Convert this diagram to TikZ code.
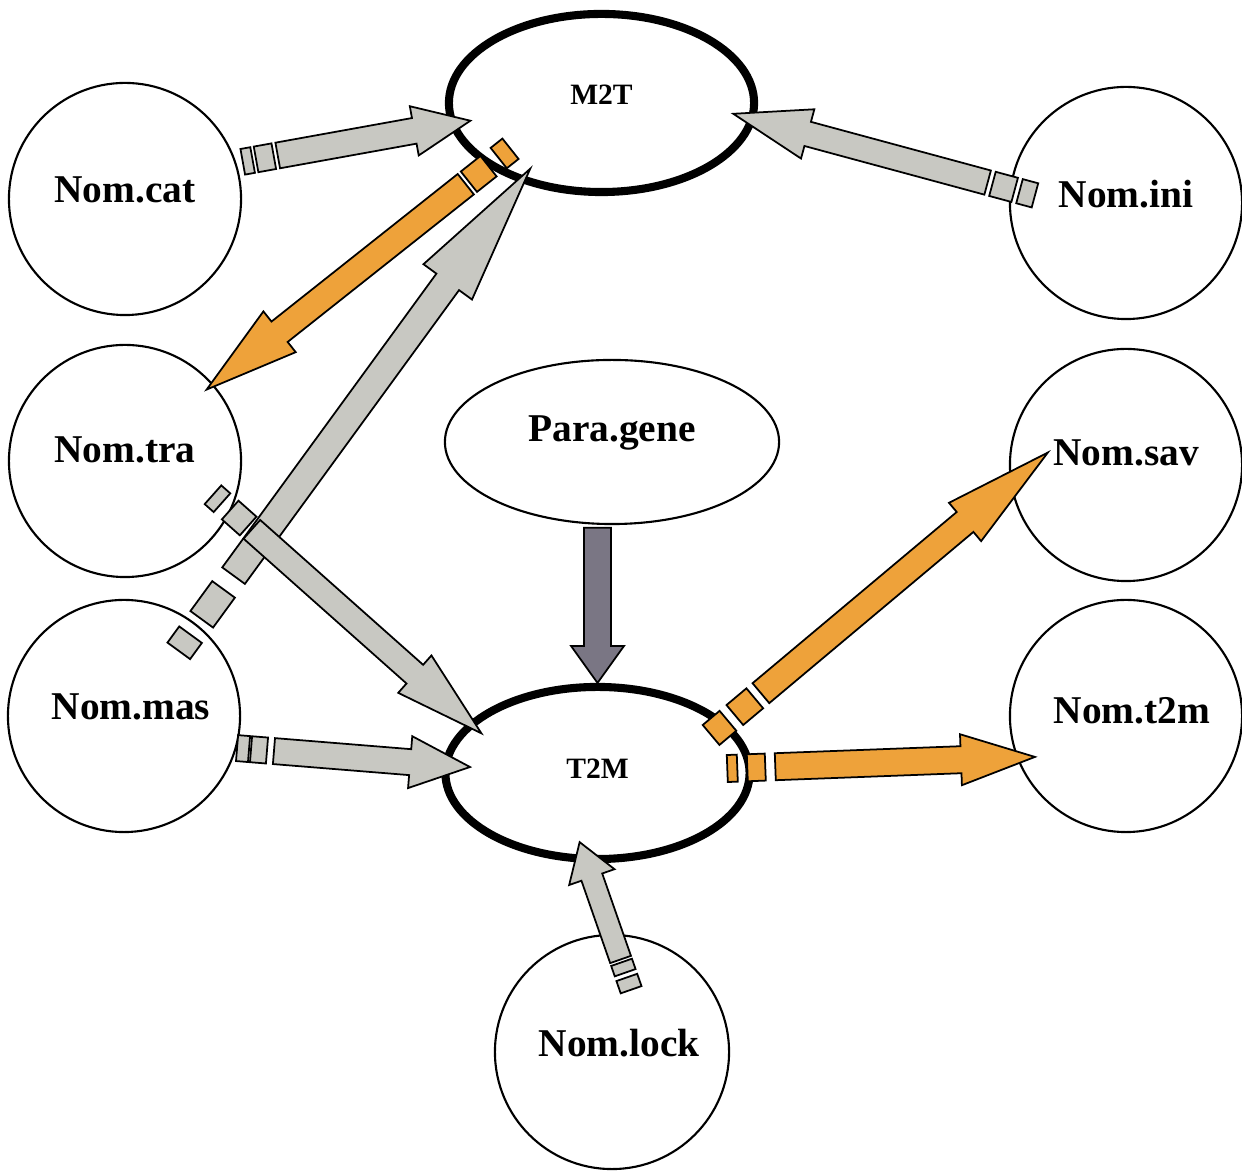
\documentclass[tikz,border=0pt]{standalone}
\usepackage{fontspec}
\setmainfont{Liberation Serif}
\usetikzlibrary{calc,shapes.geometric}

\definecolor{arrowgrey}{RGB}{200,200,194}
\definecolor{arroworange}{RGB}{238,162,58}
\definecolor{arrowdark}{RGB}{122,118,132}

\tikzset{
  ba shaft/.store in=\bashaft, ba head/.store in=\bahead,
  ba len/.store in=\balen, ba tip/.store in=\batip,
  ba shaft=1.3mm, ba head=2.5mm, ba len=5.7mm, ba tip=0mm,
  nom/.style={circle, draw, line width=0.6pt, minimum size=2.32cm,
    inner sep=0pt, outer sep=0pt},
  nomtext/.style={font=\fontsize{11.2}{13}\selectfont\bfseries, yshift=0.9mm},
  machine/.style={ellipse, draw, line width=2.3pt, inner sep=0pt, outer sep=0pt},
  machinetext/.style={font=\fontsize{8.4}{10}\selectfont\bfseries, yshift=0.8mm},
  blockline/.style={draw=black, line width=0.5pt, line join=miter},
  greyblock/.style={blockline, fill=arrowgrey},
  orangeblock/.style={blockline, fill=arroworange},
  darkblock/.style={blockline, fill=arrowdark},
}

% block arrow: [style]{from}{to}{tail bits a/b}{shaft start}
\newcommand{\blockarrow}[5][]{%
  \begin{scope}[#1]
    \coordinate (ba-t) at ($(#3)!\batip!180:(#2)$);
    \coordinate (ba-h) at ($(ba-t)!\balen!(#2)$);
    % broken tail
    \ifx\relax#4\relax\else
    \foreach \a/\b in {#4}
      \draw[#1] ($(#2)!\a!(ba-t)!\bashaft!90:(ba-t)$)
        -- ($(#2)!\b!(ba-t)!\bashaft!90:(ba-t)$)
        -- ($(#2)!\b!(ba-t)!\bashaft!-90:(ba-t)$)
        -- ($(#2)!\a!(ba-t)!\bashaft!-90:(ba-t)$) -- cycle;
    \fi
    % shaft and head
    \draw[#1] ($(#2)!#5!(ba-t)!\bashaft!90:(ba-t)$)
      -- ($(ba-h)!\bashaft!-90:(#2)$)
      -- ($(ba-h)!\bahead!-90:(#2)$)
      -- (ba-t)
      -- ($(ba-h)!\bahead!90:(#2)$)
      -- ($(ba-h)!\bashaft!90:(#2)$)
      -- ($(#2)!#5!(ba-t)!\bashaft!-90:(ba-t)$) -- cycle;
  \end{scope}}

\begin{document}
\begin{tikzpicture}[x=0.01cm,y=-0.01cm]
  \useasboundingbox (0,0) rectangle (1242,1171);

  % the two transforms
  \node[machine, minimum width=3.05cm, minimum height=1.78cm,
    label={[machinetext]center:M2T}] (m2t) at (601.5,103) {};
  \node[machine, minimum width=3.04cm, minimum height=1.72cm,
    label={[machinetext,yshift=-0.4mm]center:T2M}] (t2m) at (597.5,773) {};

  % parameters
  \node[ellipse, draw, line width=0.6pt, inner sep=0pt, outer sep=0pt,
    minimum width=3.34cm, minimum height=1.64cm,
    label={[nomtext]center:Para.gene}] (para) at (612,442) {};

  % models, left side
  \node[nom, label={[nomtext]center:Nom.cat}] (nomcat) at (125,199) {};
  \node[nom, label={[nomtext,yshift=0.2mm]center:Nom.tra}] (nomtra) at (125,461) {};
  \node[nom, label={[nomtext,xshift=0.7mm]center:Nom.mas}] (nommas) at (124,716) {};

  % models, right side
  \node[nom, label={[nomtext]center:Nom.ini}] (nomini) at (1126,203) {};
  \node[nom, label={[nomtext,yshift=0.3mm]center:Nom.sav}] (nomsav) at (1126,465) {};
  \node[nom, label={[nomtext,xshift=0.6mm,yshift=-0.4mm]center:Nom.t2m}] (nomtm) at (1126,716) {};

  % lock
  \node[nom, minimum size=2.34cm, label={[nomtext,xshift=0.7mm]center:Nom.lock}] (nomlock) at (612,1052) {};

  % inputs of M2T
  \blockarrow[greyblock, ba shaft=1.3mm, ba head=2.5mm, ba len=5.7mm, ba tip=1.75mm]
    {nomcat.18}{m2t.188}{0.75mm/1.75mm, 2.1mm/3.9mm}{4.3mm}
  \blockarrow[greyblock, ba shaft=1.25mm, ba head=2.55mm, ba len=7.7mm, ba tip=1.9mm]
    {nomini.173}{m2t.354}{-2.5mm/-0.9mm, -0.4mm/1.9mm}{2.4mm}
  \blockarrow[greyblock, ba shaft=1.4mm, ba head=3mm, ba len=14mm, ba tip=1.3mm]
    {nommas.51}{m2t.224}{-3.1mm/-1.1mm, 0.8mm/4.5mm}{6.2mm}

  % output of M2T
  \blockarrow[orangeblock, ba shaft=1.3mm, ba head=2.6mm, ba len=9.3mm, ba tip=0.76mm]
    {m2t.209}{nomtra.41}{-2.5mm/-1mm, 0.3mm/2.8mm}{3.2mm}

  % inputs of T2M
  \blockarrow[greyblock, ba shaft=1.25mm, ba head=2.5mm, ba len=8.9mm, ba tip=1.3mm]
    {nomtra.335}{t2m.159}{-2.3mm/-1.1mm, 0mm/2.4mm}{2.9mm}
  \blockarrow[greyblock, ba shaft=1.3mm, ba head=2.6mm, ba len=6mm, ba tip=2.4mm]
    {nommas.344}{t2m.177}{0.15mm/1.35mm, 1.55mm/3.15mm}{3.85mm}
  \blockarrow[darkblock, ba shaft=1.35mm, ba head=2.65mm, ba len=3.7mm, ba tip=-0.4mm]
    {para.260}{t2m.90}{}{0.4mm}
  \blockarrow[greyblock, ba shaft=1.1mm, ba head=2.4mm, ba len=3.7mm, ba tip=1.76mm]
    {nomlock.90}{t2m.262}{-5.8mm/-4.5mm, -4mm/-2.9mm}{-2.6mm}

  % outputs of T2M
  \blockarrow[orangeblock, ba shaft=1.3mm, ba head=2.5mm, ba len=10.8mm, ba tip=4.76mm]
    {t2m.21}{nomsav.189}{-1.6mm/0.6mm, 1.5mm/4.1mm}{4.9mm}
  \blockarrow[orangeblock, ba shaft=1.35mm, ba head=2.55mm, ba len=7.4mm, ba tip=1.73mm]
    {t2m.2}{nomtm.201}{-2.2mm/-1.2mm, -0.2mm/1.6mm}{2.6mm}
\end{tikzpicture}
\end{document}
